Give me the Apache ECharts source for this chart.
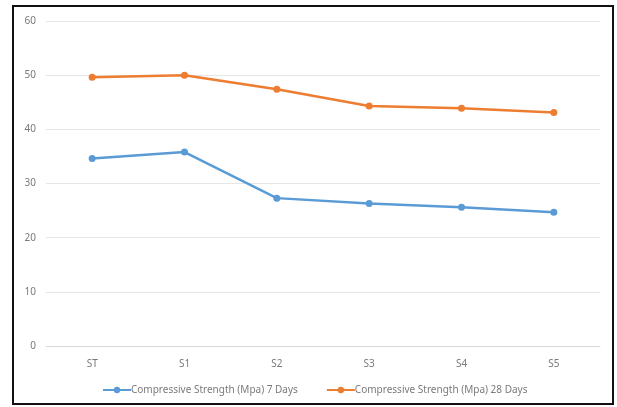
<!DOCTYPE html>
<html>
<head>
<meta charset="utf-8">
<script src="https://cdn.jsdelivr.net/npm/echarts@6/dist/echarts.min.js"></script>
<style>
  html, body { margin: 0; padding: 0; background: #ffffff; }
  #frame {
    position: absolute; left: 12px; top: 5px; width: 598px; height: 396px;
    border: 2px solid #111; box-sizing: content-box;
  }
  #chart { position: absolute; left: 0; top: 0; width: 617px; height: 407px; }
</style>
</head>
<body>
<div id="frame"></div>
<div id="chart"></div>
<script>
// Mix designs on the horizontal axis
const categories = ['ST', 'S1', 'S2', 'S3', 'S4', 'S5'];
// Compressive strength results (MPa)
const strength7Days = [34.6, 35.8, 27.3, 26.3, 25.6, 24.7];
const strength28Days = [49.6, 50.0, 47.4, 44.3, 43.9, 43.1];
const seriesNames = [
  'Compressive Strength (Mpa) 7 Days',
  'Compressive Strength (Mpa) 28 Days'
];

const chart = echarts.init(document.getElementById('chart'), null, { renderer: 'canvas' });
const font = 'Noto Sans, sans-serif';
const labelColor = '#7a7a7a';

function lineSeries(name, data, color) {
  return {
    name: name,
    type: 'line',
    data: data,
    symbol: 'circle',
    symbolSize: 7,
    itemStyle: { color: color },
    lineStyle: { color: color, width: 2.5 },
    emphasis: { disabled: true },
    z: 3
  };
}

chart.setOption({
  animation: false,
  grid: { left: 46, right: 17, top: 21, bottom: 61, containLabel: false },
  xAxis: {
    type: 'category',
    data: categories,
    boundaryGap: true,
    axisLine: { show: true, lineStyle: { color: '#d9d9d9', width: 1 } },
    axisTick: { show: false },
    axisLabel: { color: labelColor, fontSize: 10, fontFamily: font, margin: 13 }
  },
  yAxis: {
    type: 'value',
    min: 0, max: 60, interval: 10,
    axisLine: { show: false },
    axisTick: { show: false },
    splitLine: { lineStyle: { color: '#e6e6e6', width: 1 } },
    axisLabel: { color: labelColor, fontSize: 10, fontFamily: font, margin: 10 }
  },
  legend: {
    top: 380,
    left: 97,
    padding: 5,
    itemWidth: 28,
    itemHeight: 8,
    itemGap: 28,
    textStyle: { color: labelColor, fontSize: 10, fontFamily: font, padding: [0, 0, 0, -5] },
    data: seriesNames
  },
  series: [
    lineSeries(seriesNames[0], strength7Days, '#5b9bd5'),
    lineSeries(seriesNames[1], strength28Days, '#ed7d31')
  ]
});
</script>
</body>
</html>
